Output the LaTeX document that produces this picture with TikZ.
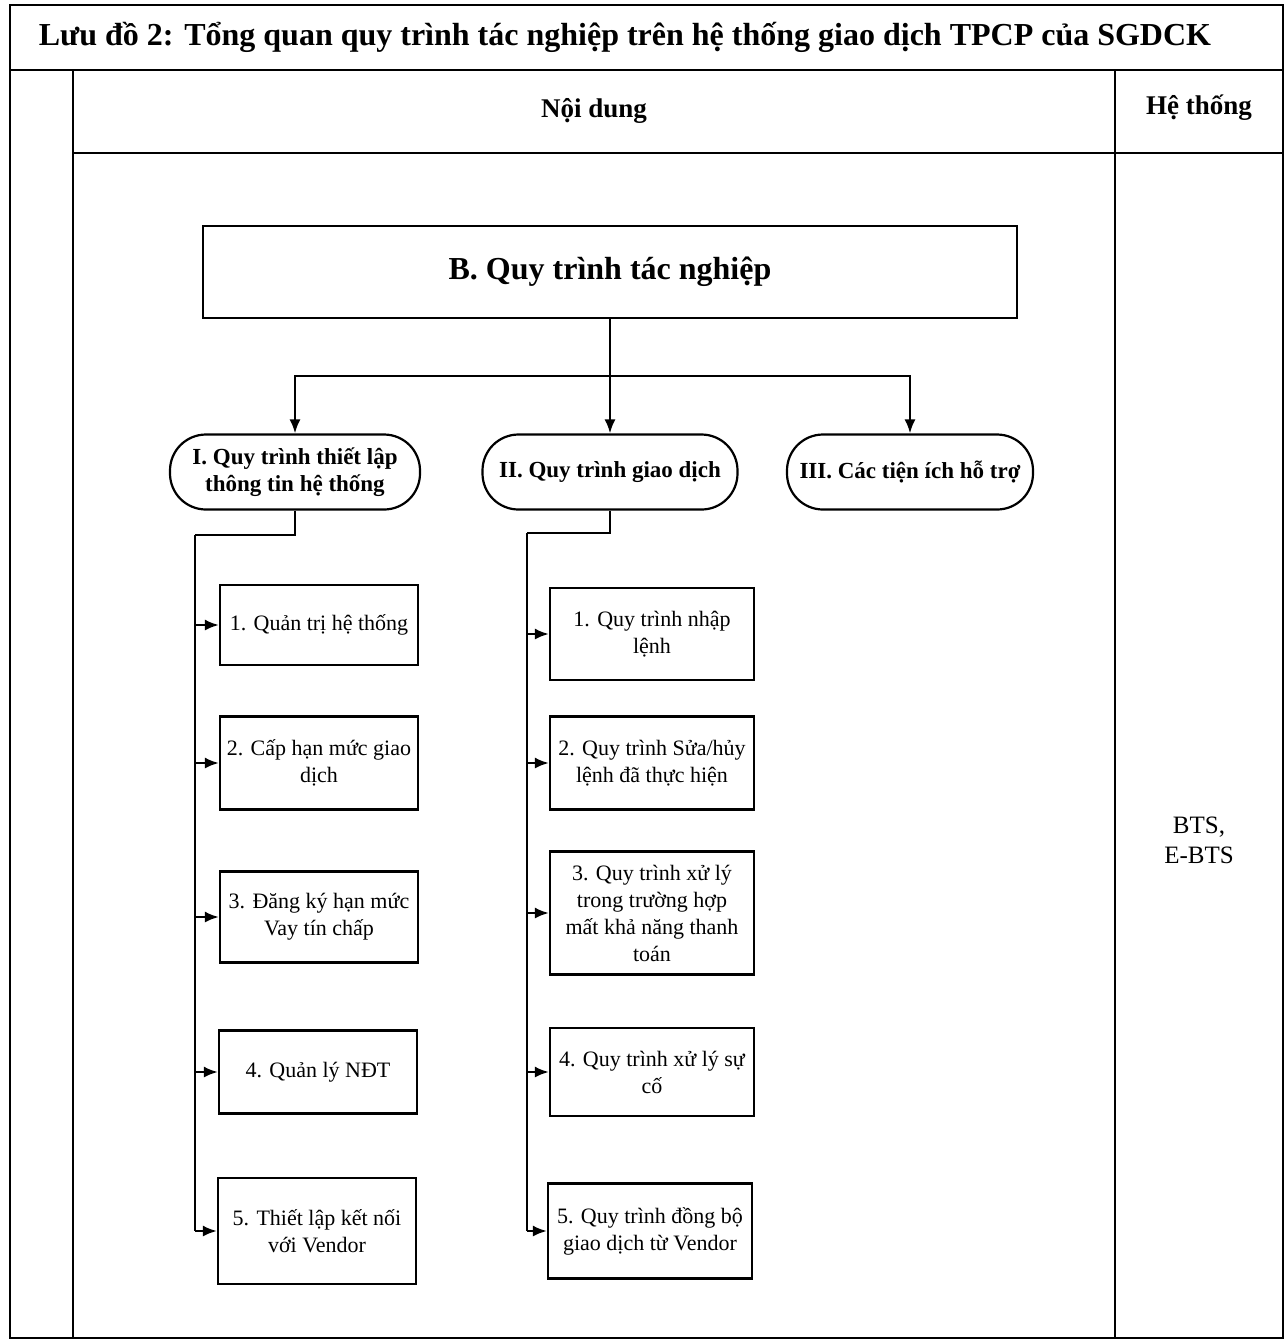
\documentclass[tikz,border=0pt]{standalone}
\usepackage{fontspec}
\setmainfont{Liberation Serif}
\usetikzlibrary{arrows.meta}
\begin{document}
\begin{tikzpicture}[x=0.5pt,y=-0.5pt,
  frame/.style={line width=1.4pt},
  wire/.style={line width=1.1pt},
  arr/.style={wire,-{Latex[length=7pt,width=5.5pt]}},
  topbox/.style={draw,line width=1.1pt,minimum width=407pt,minimum height=46pt,inner sep=0pt,
    font=\fontsize{16}{19}\selectfont\bfseries},
  stad/.style={draw,line width=1.1pt,rounded corners=18pt,minimum height=37.5pt,inner sep=0pt,
    align=center,font=\fontsize{11.5}{13.5}\selectfont\bfseries},
  lbox/.style={draw,line width=1.1pt,inner sep=0pt,minimum width=99pt,align=center,
    font=\fontsize{11}{13.5}\selectfont},
  rbox/.style={draw,line width=1.1pt,inner sep=0pt,minimum width=102pt,align=center,
    font=\fontsize{11}{13.5}\selectfont},
]
\useasboundingbox (0,0) rectangle (1285,1341);

% table frame
\draw[frame] (10,5) rectangle (1283,1338);
\draw[frame] (10,70) -- (1283,70);
\draw[frame] (73,153) -- (1283,153);
\draw[frame] (73,70) -- (73,1338);
\draw[frame] (1115,70) -- (1115,1338);

% headings
\node[font=\fontsize{16}{19}\selectfont\bfseries] (title) at (625,37)
  {Lưu đồ 2: Tổng quan quy trình tác nghiệp trên hệ thống giao dịch TPCP của SGDCK};
\node[font=\fontsize{13.5}{16}\selectfont\bfseries] (content) at (594,111) {Nội dung};
\node[font=\fontsize{13.5}{16}\selectfont\bfseries] (system) at (1199,108) {Hệ thống};
\node[align=center,font=\fontsize{12.5}{15}\selectfont] (bts) at (1199,840) {BTS,\\E-BTS};

% main process and its three groups
\node[topbox] (B) at (610,272) {B. Quy trình tác nghiệp};
\node[stad,minimum width=125pt] (s1) at (295,472) {I. Quy trình thiết lập\\thông tin hệ thống};
\node[stad,minimum width=127.5pt] (s2) at (610,472) {II. Quy trình giao dịch};
\node[stad,minimum width=123pt] (s3) at (910,472) {III. Các tiện ích hỗ trợ};

\draw[wire] (B.south) -- ++(0,57) coordinate (split);
\draw[arr] (split) -- (s2.north);
\draw[arr] (split) -| (s1.north);
\draw[arr] (split) -| (s3.north);

% group I steps
\node[lbox,minimum height=40pt] (p1) at (319,625) {1. Quản trị hệ thống};
\node[lbox,minimum height=46.5pt] (p2) at (319,763) {2. Cấp hạn mức giao\\dịch};
\node[lbox,minimum height=45.5pt] (p3) at (319,917) {3. Đăng ký hạn mức\\Vay tín chấp};
\node[lbox,minimum height=41.5pt] (p4) at (318,1072) {4. Quản lý NĐT};
\node[lbox,minimum height=53pt] (p5) at (317,1231) {5. Thiết lập kết nối\\với Vendor};

\coordinate (lt) at (195,535);
\draw[wire] (s1.south) |- (lt);
\draw[wire] (lt) -- (lt |- p5.west);
\foreach \n in {p1,p2,p3,p4,p5}
  \draw[arr] (lt |- \n.west) -- (\n.west);

% group II steps
\node[rbox,minimum height=46pt] (q1) at (652,634) {1. Quy trình nhập\\lệnh};
\node[rbox,minimum height=46.5pt] (q2) at (652,763) {2. Quy trình Sửa/hủy\\lệnh đã thực hiện};
\node[rbox,minimum height=61.5pt] (q3) at (652,913) {3. Quy trình xử lý\\trong trường hợp\\mất khả năng thanh\\toán};
\node[rbox,minimum height=44pt] (q4) at (652,1072) {4. Quy trình xử lý sự\\cố};
\node[rbox,minimum height=47.5pt] (q5) at (650,1231) {5. Quy trình đồng bộ\\giao dịch từ Vendor};

\coordinate (rt) at (527,533);
\draw[wire] (s2.south) |- (rt);
\draw[wire] (rt) -- (rt |- q5.west);
\foreach \n in {q1,q2,q3,q4,q5}
  \draw[arr] (rt |- \n.west) -- (\n.west);

\end{tikzpicture}
\end{document}
